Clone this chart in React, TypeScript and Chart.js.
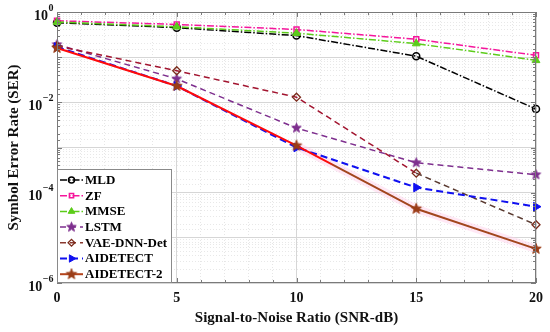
import React, { useEffect, useRef } from 'react';
import Chart from 'chart.js/auto';
import { drawPoint } from 'chart.js/helpers';

const snr = [0, 5, 10, 15, 20];
const mld = [0.58, 0.45, 0.3, 0.105, 0.0071];
const zf = [0.64, 0.53, 0.41, 0.25, 0.11];
const mmse = [0.6, 0.47, 0.34, 0.2, 0.085];
const lstm = [0.19, 0.033, 0.0027, 0.00046, 0.00025];
const vaeDnnDet = [0.177, 0.05, 0.013, 0.00027, 0.0000195];
const aidetect = [0.168, 0.023, 0.001, 0.00013, 0.000049];
const aidetect2 = [0.16, 0.023, 0.0011, 0.000044, 0.0000057];
const yTickExponents = [0, -2, -4, -6];
const xLabelStep = 5;

const FONT = '"Liberation Serif", "Times New Roman", serif';

function makeStar(color: string, r: number): HTMLCanvasElement {
  const size = Math.ceil(r * 2 + 3);
  const c = document.createElement('canvas');
  c.width = size;
  c.height = size;
  const g = c.getContext('2d')!;
  const cx = size / 2, cy = size / 2;
  g.beginPath();
  for (let i = 0; i < 10; i++) {
    const rad = i % 2 === 0 ? r : r * 0.42;
    const a = -Math.PI / 2 + (i * Math.PI) / 5;
    const x = cx + rad * Math.cos(a), y = cy + rad * Math.sin(a);
    if (i === 0) g.moveTo(x, y); else g.lineTo(x, y);
  }
  g.closePath();
  g.fillStyle = color;
  g.strokeStyle = color;
  g.lineWidth = 1;
  g.fill();
  g.stroke();
  return c;
}

const isMajorLog = (v: number) => {
  const l = Math.log10(v);
  return Math.abs(l - Math.round(l)) < 1e-9;
};

const frameAndLegend = {
  id: 'frameAndLegend',
  afterDraw(chart: any) {
    const { ctx, chartArea: ca, scales } = chart;
    const xs = scales.x, ys = scales.y;
    ctx.save();
    ctx.strokeStyle = '#7a7a7a';
    ctx.lineWidth = 1;
    ctx.setLineDash([]);
    ctx.strokeRect(ca.left + 0.5, ca.top + 0.5, ca.right - ca.left - 1, ca.bottom - ca.top - 1);
    ctx.beginPath();
    ys.ticks.forEach((t: any) => {
      const y = Math.round(ys.getPixelForValue(t.value)) + 0.5;
      const len = isMajorLog(t.value) ? 5 : 3;
      ctx.moveTo(ca.left, y); ctx.lineTo(ca.left + len, y);
      ctx.moveTo(ca.right, y); ctx.lineTo(ca.right - len, y);
    });
    xs.ticks.forEach((t: any) => {
      const x = Math.round(xs.getPixelForValue(t.value)) + 0.5;
      const len = t.value % xLabelStep === 0 ? 5 : 3;
      ctx.moveTo(x, ca.bottom); ctx.lineTo(x, ca.bottom - len);
      ctx.moveTo(x, ca.top); ctx.lineTo(x, ca.top + len);
    });
    ctx.stroke();

    ctx.fillStyle = '#111';
    ctx.textBaseline = 'middle';
    ctx.textAlign = 'left';
    yTickExponents.forEach((e) => {
      const y = ys.getPixelForValue(Math.pow(10, e));
      const sup = e === 0 ? '0' : '\u2212' + Math.abs(e);
      ctx.font = `bold 14px ${FONT}`;
      const wb = ctx.measureText('10').width;
      ctx.font = `bold 10px ${FONT}`;
      const ws = ctx.measureText(sup).width;
      const right = ca.left - 4;
      const x0 = right - wb - ws;
      ctx.font = `bold 14px ${FONT}`;
      ctx.fillText('10', x0, y + 4);
      ctx.font = `bold 10px ${FONT}`;
      ctx.fillText(sup, x0 + wb + 0.5, y - 4);
    });

    const entries = chart.data.datasets.filter((d: any) => !d.helper);
    const bx = ca.left, by = 169, bw = 115, bh = ca.bottom - 169;
    ctx.fillStyle = '#ffffff';
    ctx.fillRect(bx, by, bw, bh);
    ctx.strokeStyle = '#8a8a8a';
    ctx.strokeRect(bx + 0.5, by + 0.5, bw - 1, bh - 1);
    entries.forEach((d: any, i: number) => {
      const y = 180 + i * 15.7;
      ctx.save();
      ctx.strokeStyle = d.legendColor || d.borderColor;
      ctx.lineWidth = d.borderWidth;
      ctx.setLineDash(d.borderDash || []);
      ctx.beginPath();
      ctx.moveTo(bx + 3, y);
      ctx.lineTo(bx + 26, y);
      ctx.stroke();
      ctx.setLineDash([]);
      ctx.fillStyle = d.pointBackgroundColor;
      ctx.strokeStyle = d.pointBorderColor;
      ctx.lineWidth = d.pointBorderWidth;
      drawPoint(ctx, {
        pointStyle: d.pointStyle,
        rotation: d.pointRotation || 0,
        radius: d.pointRadius * 0.85,
        borderWidth: d.pointBorderWidth,
      }, bx + 14.5, y);
      ctx.restore();
      ctx.fillStyle = '#000';
      ctx.font = `bold 13px ${FONT}`;
      ctx.textAlign = 'left';
      ctx.textBaseline = 'middle';
      ctx.fillText(d.label, bx + 28, y + 0.5);
    });
    ctx.restore();
  },
};

export default function App() {
  const ref = useRef<HTMLCanvasElement>(null);
  useEffect(() => {
    const canvas = ref.current!;
    const purpleStar = makeStar('#7e2f8e', 5);
    const brownStar = makeStar('#9a3d17', 5.5);
    const red = '#ff0a0a';
    const brown = '#a2461d';
    const gradColor = (c: any) => {
      const chart = c.chart;
      const ca = chart.chartArea;
      if (!ca || !chart.scales.x) return red;
      const g = chart.ctx.createLinearGradient(ca.left, 0, ca.right, 0);
      const px = chart.scales.x.getPixelForValue(11.3);
      const s = Math.min(0.98, Math.max(0, (px - ca.left) / (ca.right - ca.left)));
      g.addColorStop(0, red);
      g.addColorStop(s, red);
      g.addColorStop(s + 0.015, brown);
      g.addColorStop(1, brown);
      return g;
    };
    const base = { clip: false as any, tension: 0, fill: false };
    const chart = new Chart(canvas, {
      type: 'line',
      data: {
        labels: snr,
        datasets: [
          {
            ...base, helper: true, label: 'halo', order: 20,
            data: snr.map((x, i) => ({ x, y: aidetect2[i] })),
            borderColor: 'rgba(255, 205, 232, 0.45)', borderWidth: 8, pointRadius: 0,
            segment: { borderColor: (c: any) => (c.p0DataIndex < 2 ? 'rgba(0,0,0,0)' : 'rgba(255, 205, 232, 0.45)') },
          } as any,
          {
            ...base, label: 'MLD', order: 7, data: snr.map((x, i) => ({ x, y: mld[i] })),
            borderColor: '#000000', borderWidth: 1.5, borderDash: [7, 2, 1.5, 2],
            pointStyle: 'circle', pointRadius: 3.5, pointBorderWidth: 1.5,
            pointBackgroundColor: 'rgba(255,255,255,0)', pointBorderColor: '#000000',
          },
          {
            ...base, label: 'ZF', order: 6, data: snr.map((x, i) => ({ x, y: zf[i] })),
            borderColor: '#f5169c', borderWidth: 1.5, borderDash: [7, 2, 1.5, 2],
            pointStyle: 'rect', pointRadius: 3.5, pointBorderWidth: 1.5,
            pointBackgroundColor: 'rgba(255,255,255,0)', pointBorderColor: '#f5169c',
          },
          {
            ...base, label: 'MMSE', order: 5, data: snr.map((x, i) => ({ x, y: mmse[i] })),
            borderColor: '#5ccc1a', borderWidth: 1.5, borderDash: [7, 2, 1.5, 2],
            pointStyle: 'triangle', pointRadius: 4.5, pointBorderWidth: 1,
            pointBackgroundColor: '#5ccc1a', pointBorderColor: '#5ccc1a',
          },
          {
            ...base, label: 'LSTM', order: 4, data: snr.map((x, i) => ({ x, y: lstm[i] })),
            borderColor: '#7e2f8e', borderWidth: 1.5, borderDash: [6, 4],
            pointStyle: purpleStar, pointRadius: 5, pointBorderWidth: 1,
            pointBackgroundColor: '#7e2f8e', pointBorderColor: '#7e2f8e',
          },
          {
            ...base, label: 'VAE-DNN-Det', order: 3, data: snr.map((x, i) => ({ x, y: vaeDnnDet[i] })),
            borderColor: '#a2142f', borderWidth: 1.5, borderDash: [6, 4],
            pointStyle: 'rectRot', pointRadius: 4, pointBorderWidth: 1.3,
            pointBackgroundColor: 'rgba(255,255,255,0)', pointBorderColor: '#7a2a1a',
            segment: { borderColor: (c: any) => (c.p0DataIndex >= 3 ? '#5a3a30' : '#a2142f') },
            legendColor: '#8a3a30',
          } as any,
          {
            ...base, label: 'AIDETECT', order: 2, data: snr.map((x, i) => ({ x, y: aidetect[i] })),
            borderColor: '#1010f0', borderWidth: 2, borderDash: [7, 4],
            pointStyle: 'triangle', pointRotation: 90, pointRadius: 5, pointBorderWidth: 1,
            pointBackgroundColor: '#1010f0', pointBorderColor: '#1010f0',
          },
          {
            ...base, label: 'AIDETECT-2', order: 1, data: snr.map((x, i) => ({ x, y: aidetect2[i] })),
            borderColor: gradColor, borderWidth: 2,
            pointStyle: brownStar, pointRadius: 5.5, pointBorderWidth: 1,
            pointBackgroundColor: '#9a3d17', pointBorderColor: '#9a3d17',
            legendColor: '#b4441c',
          } as any,
        ],
      },
      options: {
        animation: false,
        responsive: false,
        devicePixelRatio: 1,
        layout: { padding: { top: 12, right: 10, left: 0, bottom: 0 } },
        plugins: { legend: { display: false }, tooltip: { enabled: false } },
        scales: {
          x: {
            type: 'linear', min: 0, max: 20,
            afterFit: (s: any) => { s.height = 49; },
            ticks: {
              stepSize: 1, autoSkip: false, maxRotation: 0, padding: 7, color: '#111',
              font: { family: FONT, size: 14, weight: 'bold' },
              callback: (v: any) => (Number(v) % xLabelStep === 0 ? String(v) : ''),
            },
            grid: {
              drawTicks: false,
              color: (c: any) => (c.tick && c.tick.value % xLabelStep === 0 ? '#d6d6d6' : '#e6e6e6'),
              lineWidth: 1,
            },
            border: { display: false, dash: (c: any) => (c.tick && c.tick.value % xLabelStep !== 0 ? [1, 2] : []) } as any,
            title: {
              display: true, text: 'Signal-to-Noise Ratio (SNR-dB)', color: '#111',
              font: { family: FONT, size: 15, weight: 'bold' }, padding: { top: 0, bottom: 5 },
            },
          },
          y: {
            type: 'logarithmic', min: 1e-6, max: 1,
            afterFit: (s: any) => { s.width = 57; },
            ticks: { display: false, autoSkip: false },
            grid: {
              drawTicks: false,
              color: (c: any) => (c.tick && isMajorLog(c.tick.value) ? '#d6d6d6' : '#e8e8e8'),
              lineWidth: 1,
            },
            border: { display: false, dash: (c: any) => (c.tick && !isMajorLog(c.tick.value) ? [1, 2] : []) } as any,
            title: {
              display: true, text: 'Symbol Error Rate (SER)', color: '#111',
              font: { family: FONT, size: 15, weight: 'bold' }, padding: { top: 5, bottom: 0 },
            },
          },
        },
      },
      plugins: [frameAndLegend],
    } as any);
    return () => chart.destroy();
  }, []);
  return (
    <div style={{ position: 'fixed', left: 0, top: 0, width: 550, height: 332, background: '#fff' }}>
      <canvas ref={ref} width={550} height={332} style={{ display: 'block' }} />
    </div>
  );
}
